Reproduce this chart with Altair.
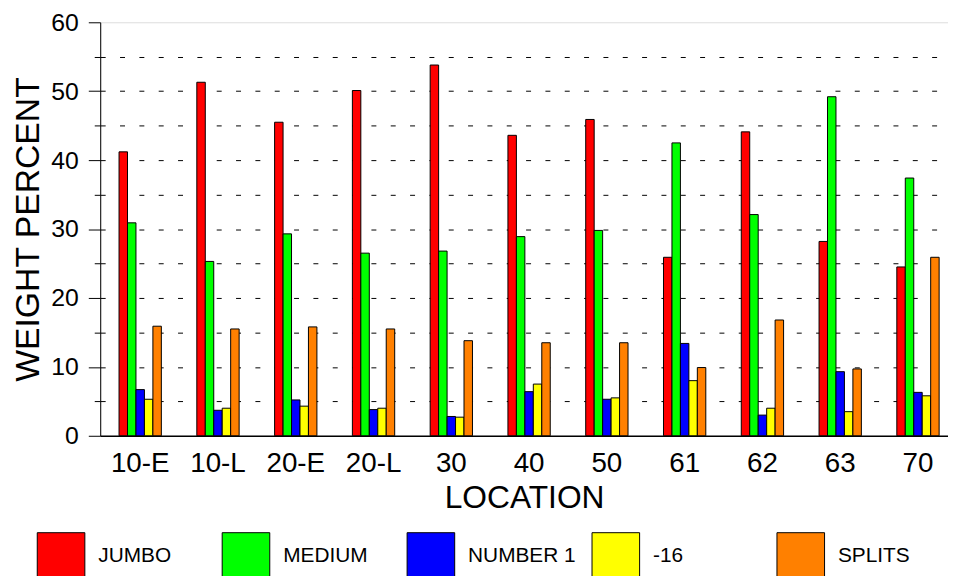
import altair as alt
import pandas as pd

locations = ["10-E", "10-L", "20-E", "20-L", "30", "40", "50", "61", "62", "63", "70"]
series_names = ["JUMBO", "MEDIUM", "NUMBER 1", "-16", "SPLITS"]
series_colors = ["#FF0000", "#00FF00", "#0000FF", "#FFFF00", "#FF8000"]

jumbo = [41.2, 51.3, 45.5, 50.1, 53.8, 43.6, 45.9, 25.9, 44.1, 28.2, 24.5]
medium = [30.9, 25.3, 29.3, 26.5, 26.8, 28.9, 29.8, 42.5, 32.1, 49.2, 37.4]
number1 = [6.7, 3.7, 5.2, 3.8, 2.8, 6.4, 5.3, 13.4, 3.0, 9.3, 6.3]
minus16 = [5.3, 4.0, 4.3, 4.0, 2.7, 7.5, 5.5, 8.0, 4.0, 3.5, 5.8]
splits = [15.9, 15.5, 15.8, 15.5, 13.8, 13.5, 13.5, 9.9, 16.8, 9.7, 25.9]

values = [jumbo, medium, number1, minus16, splits]
rows = []
for name, vals in zip(series_names, values):
    for loc, v in zip(locations, vals):
        rows.append({"loc": loc, "series": name, "value": v})
df = pd.DataFrame(rows)

FONT = "Liberation Sans, Arial, sans-serif"

chart = alt.Chart(df).mark_bar(stroke="black", strokeWidth=1).encode(
    x=alt.X(
        "loc:N",
        sort=locations,
        scale=alt.Scale(paddingInner=0.456, paddingOuter=0.178, align=0.68),
        axis=alt.Axis(
            title="LOCATION",
            labelAngle=0,
            ticks=False,
            tickSize=0,
            domainColor="black",
            domainWidth=1.5,
            labelFont=FONT,
            labelFontSize=28,
            labelColor="black",
            labelPadding=14,
            titleFont=FONT,
            titleFontSize=32,
            titleFontWeight="normal",
            titleColor="black",
            titlePadding=5,
            grid=False,
        ),
    ),
    xOffset=alt.XOffset(
        "series:N",
        sort=series_names,
        scale=alt.Scale(paddingInner=0, paddingOuter=0),
    ),
    y=alt.Y(
        "value:Q",
        scale=alt.Scale(domain=[0, 60], nice=False),
        axis=alt.Axis(
            title="WEIGHT PERCENT",
            values=list(range(0, 61, 5)),
            labelExpr="datum.value % 10 === 0 ? datum.label : ''",
            tickSize={"condition": {"test": "datum.value % 10 === 0", "value": 12}, "value": 6},
            tickColor="black",
            domainColor="black",
            labelFont=FONT,
            labelFontSize=25,
            labelColor="black",
            labelPadding=10,
            titleFont=FONT,
            titleFontSize=34,
            titleFontWeight="normal",
            titleColor="black",
            titlePadding=5,
            grid=True,
            gridColor="black",
            gridDash=[5, 14.5],
            gridOpacity={"condition": {"test": "datum.value === 60 || datum.value === 0", "value": 0}, "value": 1},
        ),
    ),
    color=alt.Color(
        "series:N",
        sort=series_names,
        scale=alt.Scale(domain=series_names, range=series_colors),
        legend=alt.Legend(
            title=None,
            orient="none",
            legendX=-64,
            legendY=514,
            direction="horizontal",
            symbolType="square",
            symbolSize=2304,
            symbolStrokeColor="black",
            symbolStrokeWidth=1,
            symbolOpacity=1,
            labelFont=FONT,
            labelFontSize=21,
            labelColor="black",
            labelOffset=13,
            columnPadding=13.5,
            gridAlign="all",
            padding=0,
        ),
    ),
).properties(
    width=855,
    height=417,
    autosize=alt.AutoSizeParams(type="none"),
    padding={"left": 93, "top": 12, "right": 0, "bottom": 139},
).configure_view(stroke=None).configure(background="white")

chart.save("out.html", embed_options={"renderer": "svg", "actions": False})
